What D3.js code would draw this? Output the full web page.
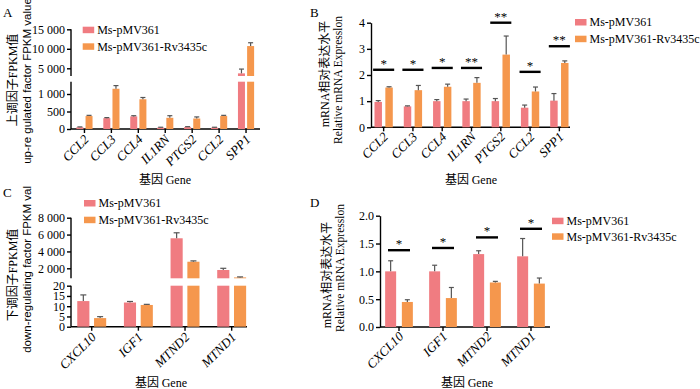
<!DOCTYPE html>
<html><head><meta charset="utf-8">
<script src="https://cdn.jsdelivr.net/npm/d3@7"></script>
<style>body{margin:0;background:#fff}svg{display:block}</style>
</head><body>
<script>
// ---------- DATA ----------
const upGenes = ["CCL2","CCL3","CCL4","IL1RN","PTGS2","CCL2","SPP1"];
const downGenes = ["CXCL10","IGF1","MTND2","MTND1"];
const seriesNames = ["Ms-pMV361","Ms-pMV361-Rv3435c"];

// A: FPKM of up-regulated factors
const fpkmUpCtrl    = [50, 310, 360, 40, 55, 40, 3700];
const fpkmUpCtrlErr = [10, 15, 20, 10, 12, 10, 1100];
const fpkmUpRv      = [370, 1150, 850, 320, 300, 370, 10700];
const fpkmUpRvErr   = [20, 90, 50, 60, 45, 20, 850];
const fpkmUpTicksLow  = [0, 500, 1000];
const fpkmUpTicksHigh = [5000, 10000, 15000];

// B: relative mRNA expression of up-regulated factors
const qUpCtrl    = [0.97, 0.80, 1.00, 1.00, 1.00, 0.75, 1.02];
const qUpCtrlErr = [0.05, 0.02, 0.06, 0.08, 0.10, 0.10, 0.27];
const qUpRv      = [1.52, 1.42, 1.55, 1.70, 2.78, 1.37, 2.46];
const qUpRvErr   = [0.03, 0.18, 0.10, 0.20, 0.71, 0.17, 0.08];
const qUpSig     = ["*","*","*","**","**","*","**"];
const qUpSigLevel= [2.20, 2.20, 2.27, 2.27, 4.00, 2.12, 3.10];
const qUpTicks   = [0, 1, 2, 3, 4];

// C: FPKM of down-regulated factors
const fpkmDownCtrl    = [12.5, 11.8, 5560, 1800];
const fpkmDownCtrlErr = [3.0, 0.5, 650, 200];
const fpkmDownRv      = [4.2, 10.6, 2780, 920];
const fpkmDownRvErr   = [0.7, 0.3, 100, 60];
const fpkmDownTicksLow  = [0, 5, 10, 15, 20];
const fpkmDownTicksHigh = [2000, 4000, 6000, 8000];

// D: relative mRNA expression of down-regulated factors
const qDownCtrl    = [1.00, 1.00, 1.31, 1.27];
const qDownCtrlErr = [0.19, 0.11, 0.06, 0.32];
const qDownRv      = [0.45, 0.52, 0.80, 0.78];
const qDownRvErr   = [0.04, 0.19, 0.02, 0.10];
const qDownSig     = ["*","*","*","*"];
const qDownSigLevel= [1.38, 1.42, 1.61, 1.765];
const qDownTicks   = [0, 0.5, 1, 1.5, 2];

// ---------- STYLE ----------
const PINK = "#f07c81", ORANGE = "#f5974d", ERR = "#555";
const SERIF = "'Liberation Serif','Times New Roman',serif";
const SANS = "'Liberation Sans',Arial,sans-serif";
const CJK = "'Noto Sans CJK SC',sans-serif";
const spaceFmt = d => d3.format(",")(d).replace(/,/g, " ");

const svg = d3.select("body").append("svg").attr("width", 700).attr("height", 389);
svg.append("defs").append("clipPath").attr("id","clipC")
  .append("rect").attr("x",0).attr("y",186).attr("width",350).attr("height",203);

function styleAxis(sel){
  sel.selectAll("path").attr("stroke","#000").attr("stroke-width",1.4);
  sel.selectAll("line").attr("stroke","#000").attr("stroke-width",1.4);
  sel.selectAll("text").attr("font-family",SERIF).attr("font-size",12).attr("fill","#000");
}

function panel(c){
  const g = svg.append("g");
  const x = d3.scaleBand().domain(d3.range(c.genes.length)).range(c.band);
  let mapY, segs, y0;
  if (c.broken){
    const lo = d3.scaleLinear().domain(c.loDomain).range(c.loRange);
    const hi = d3.scaleLinear().domain(c.hiDomain).range(c.hiRange);
    const loLimit = lo.invert(c.loTop);
    y0 = lo(0);
    mapY = v => v <= loLimit ? lo(v) : hi(v);
    segs = v => v <= loLimit ? [[lo(v), y0]] : [[c.loTop, y0], [hi(v), c.hiBottom]];
    const aLo = g.append("g").attr("transform",`translate(${c.axX},0)`)
      .call(d3.axisLeft(lo).tickValues(c.loTicks).tickSize(4).tickPadding(2).tickFormat(spaceFmt));
    const aHi = g.append("g").attr("transform",`translate(${c.axX},0)`)
      .call(d3.axisLeft(hi).tickValues(c.hiTicks).tickSize(4).tickPadding(2).tickFormat(spaceFmt));
    aLo.select(".domain").remove(); aHi.select(".domain").remove();
    styleAxis(aLo); styleAxis(aHi);
    g.append("line").attr("x1",c.axX).attr("x2",c.axX).attr("y1",y0).attr("y2",c.loTop)
      .attr("stroke","#000").attr("stroke-width",1.4);
    g.append("line").attr("x1",c.axX).attr("x2",c.axX).attr("y1",c.hiBottom).attr("y2",hi(c.hiDomain[1]))
      .attr("stroke","#000").attr("stroke-width",1.4);
  } else {
    const y = d3.scaleLinear().domain(c.domain).range(c.range);
    y0 = y(0);
    mapY = v => y(v);
    segs = v => [[y(v), y0]];
    const a = g.append("g").attr("transform",`translate(${c.axX},0)`)
      .call(d3.axisLeft(y).tickValues(c.ticks).tickSize(4).tickSizeOuter(0).tickPadding(2)
        .tickFormat(c.fmt || spaceFmt));
    styleAxis(a);
  }
  // x axis
  g.append("line").attr("x1",c.axX).attr("x2",c.axEnd).attr("y1",y0).attr("y2",y0)
    .attr("stroke","#000").attr("stroke-width",1.4);
  const bw = x.bandwidth();
  c.genes.forEach((name,i)=>{
    const cx = x(i) + bw/2;
    g.append("line").attr("x1",cx).attr("x2",cx).attr("y1",y0).attr("y2",y0+4)
      .attr("stroke","#000").attr("stroke-width",1.4);
    g.append("text").attr("transform",`translate(${cx+2},${y0+c.labDy}) rotate(-45)`)
      .attr("text-anchor","end").attr("dy","0.35em")
      .attr("font-family",SERIF).attr("font-style","italic").attr("font-size",13).text(name);
  });
  // bars
  const w = bw*c.barFrac, gap = bw*c.gapFrac;
  const series = [[c.ctrl,c.ctrlErr,PINK,-1],[c.rv,c.rvErr,ORANGE,1]];
  series.forEach(([vals,errs,col,side])=>{
    vals.forEach((v,i)=>{
      const cx = x(i) + bw/2;
      const bx = side<0 ? cx - gap/2 - w : cx + gap/2;
      segs(v).forEach(([t,b])=>{
        g.append("rect").attr("x",bx).attr("y",t).attr("width",w).attr("height",Math.max(0,b-t)).attr("fill",col);
      });
      const yt = mapY(v), ye = mapY(v+errs[i]);
      const mx = bx + w/2;
      g.append("line").attr("x1",mx).attr("x2",mx).attr("y1",yt).attr("y2",ye).attr("stroke",ERR).attr("stroke-width",1.2);
      g.append("line").attr("x1",mx-c.cap/2).attr("x2",mx+c.cap/2).attr("y1",ye).attr("y2",ye).attr("stroke",ERR).attr("stroke-width",1.2);
    });
  });
  // significance
  if (c.sig){
    c.sig.forEach((s,i)=>{
      const cx = x(i) + bw/2, yy = mapY(c.sigLevel[i]);
      g.append("line").attr("x1",cx-bw*c.sigHalf).attr("x2",cx+bw*c.sigHalf).attr("y1",yy).attr("y2",yy)
        .attr("stroke","#000").attr("stroke-width",2.4);
      g.append("text").attr("x",cx).attr("y",yy-2).attr("text-anchor","middle")
        .attr("font-family",SERIF).attr("font-size",13).text(s);
    });
  }
  // legend
  seriesNames.forEach((n,k)=>{
    const ly = c.leg[1] + k*c.leg[2];
    g.append("rect").attr("x",c.leg[0]).attr("y",ly).attr("width",11.5).attr("height",6.5).attr("fill",k?ORANGE:PINK);
    g.append("text").attr("x",c.leg[0]+14.5).attr("y",ly+7.4).attr("font-family",SERIF).attr("font-size",12).text(n);
  });
  // x title
  const xt = g.append("text").attr("x",c.xTitle[0]).attr("y",c.xTitle[1]).attr("text-anchor","middle").attr("font-size",12);
  xt.append("tspan").attr("font-family",CJK).text("基因 ");
  xt.append("tspan").attr("font-family",SERIF).text("Gene");
  // y titles
  const tg = c.clip ? g.append("g").attr("clip-path",`url(#${c.clip})`) : g;
  c.yTitles.forEach(t=>{
    const tx = tg.append("text").attr("transform",`translate(${t.x},${t.y}) rotate(-90)`)
      .attr("text-anchor","middle").attr("dy","0.35em").attr("font-size",t.fs);
    t.parts.forEach(p=>tx.append("tspan").attr("font-family",p[1]).text(p[0]));
  });
  // panel letter
  g.append("text").attr("x",c.letter[1]).attr("y",c.letter[2]).attr("font-family",SERIF).attr("font-size",13).text(c.letter[0]);
}

panel({
  genes: upGenes, band:[71,259.5], axX:71, axEnd:260, broken:true,
  loDomain:[0,1000], loRange:[129,94], loTop:81.7, loTicks:fpkmUpTicksLow,
  hiDomain:[5000,15000], hiRange:[68.3,29.3], hiBottom:76, hiTicks:fpkmUpTicksHigh,
  ctrl:fpkmUpCtrl, ctrlErr:fpkmUpCtrlErr, rv:fpkmUpRv, rvErr:fpkmUpRvErr,
  barFrac:0.26, gapFrac:0.08, cap:5, labDy:8,
  leg:[82.7,26.7,16.6], xTitle:[165,184],
  yTitles:[
    {x:12.5, y:80, fs:12, parts:[["上调因子",CJK],["FPKM",SERIF],["值",CJK]]},
    {x:27, y:81, fs:11.5, parts:[["up-re gulated factor FPKM value",SANS]]}
  ],
  letter:["A",3,16.7]
});

panel({
  genes: upGenes, band:[369,574], axX:371, axEnd:570, broken:false,
  domain:[0,4], range:[127.3,22.7], ticks:qUpTicks, fmt:d3.format("d"),
  ctrl:qUpCtrl, ctrlErr:qUpCtrlErr, rv:qUpRv, rvErr:qUpRvErr,
  barFrac:0.255, gapFrac:0.115, cap:5, labDy:7,
  sig:qUpSig, sigLevel:qUpSigLevel, sigHalf:0.36,
  leg:[575,19,16.7], xTitle:[471,184],
  yTitles:[
    {x:325, y:74, fs:12, parts:[["mRNA",SERIF],["相对表达水平",CJK]]},
    {x:338, y:80, fs:11.5, parts:[["Relative mRNA Expresslon",SERIF]]}
  ],
  letter:["B",310,16.7]
});

panel({
  genes: downGenes, band:[68.4,255], axX:71, axEnd:247, broken:true,
  loDomain:[0,20], loRange:[326.7,285.7], loTop:285.7, loTicks:fpkmDownTicksLow,
  hiDomain:[2000,8000], hiRange:[268.3,217.7], hiBottom:278.3, hiTicks:fpkmDownTicksHigh,
  ctrl:fpkmDownCtrl, ctrlErr:fpkmDownCtrlErr, rv:fpkmDownRv, rvErr:fpkmDownRvErr,
  barFrac:0.26, gapFrac:0.1, cap:6, labDy:8,
  leg:[84,200,16.7], xTitle:[161,387],
  clip:"clipC",
  yTitles:[
    {x:12.5, y:275, fs:12, parts:[["下调因子",CJK],["FPKM",SERIF],["值",CJK]]},
    {x:27, y:263, fs:11.5, parts:[["down-regulating factor FPKM value",SANS]]}
  ],
  letter:["C",3,196.7]
});

panel({
  genes: downGenes, band:[377,553], axX:380, axEnd:550, broken:false,
  domain:[0,2], range:[327,215.7], ticks:qDownTicks, fmt:d3.format(".1f"),
  ctrl:qDownCtrl, ctrlErr:qDownCtrlErr, rv:qDownRv, rvErr:qDownRvErr,
  barFrac:0.25, gapFrac:0.13, cap:5, labDy:7,
  sig:qDownSig, sigLevel:qDownSigLevel, sigHalf:0.25,
  leg:[552,217.7,15.6], xTitle:[467,387],
  yTitles:[
    {x:327, y:275, fs:12, parts:[["mRNA",SERIF],["相对表达水平",CJK]]},
    {x:340, y:268, fs:11.5, parts:[["Relative mRNA Expresslon",SERIF]]}
  ],
  letter:["D",310,206.7]
});
</script>
</body></html>
